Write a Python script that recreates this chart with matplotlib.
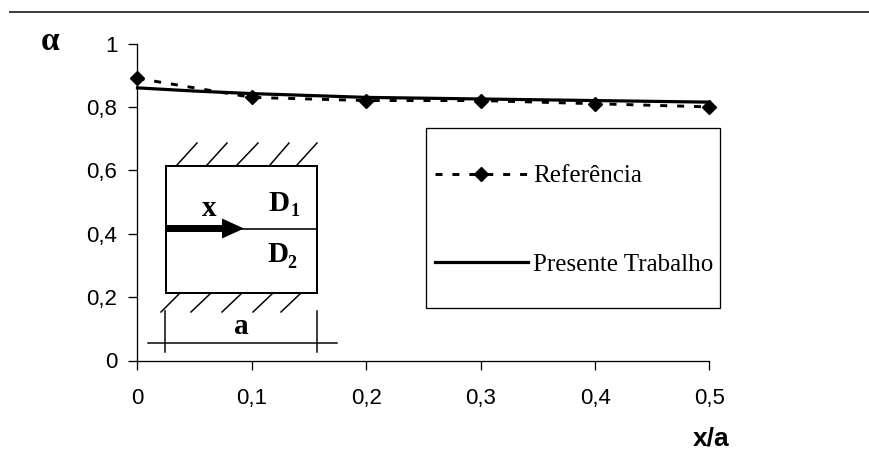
#!/usr/bin/env python3
# -*- coding: utf-8 -*-

"""Curve of alpha along x/a, with the sketch of the two-layer specimen."""

import matplotlib
matplotlib.use('Agg')
import matplotlib.pyplot as plt
from matplotlib.patches import Polygon, Rectangle

# Chart data
x_ref = [0, 0.1, 0.2, 0.3, 0.4, 0.5]
alpha_ref = [0.89, 0.83, 0.82, 0.82, 0.81, 0.80]
x_present = [0, 0.05, 0.1, 0.2, 0.3, 0.4, 0.5]
alpha_present = [0.86, 0.85, 0.842, 0.83, 0.825, 0.82, 0.815]
x_ticks = [0, 0.1, 0.2, 0.3, 0.4, 0.5]
x_tick_labels = ['0', '0,1', '0,2', '0,3', '0,4', '0,5']
y_ticks = [0, 0.2, 0.4, 0.6, 0.8, 1]
y_tick_labels = ['0', '0,2', '0,4', '0,6', '0,8', '1']

W, H = 870, 450
SANS = 'Liberation Sans'
SERIF = 'Liberation Serif'
PX = 0.72  # one pixel in points at dpi 100

fig = plt.figure(figsize=(W / 100, H / 100), dpi=100)

# Axes placed from the pixel positions of the ticks
left, right, top, bottom = 137.5, 709.5, 43.5, 360.5
ax = fig.add_axes([left / W, 1 - bottom / H, (right - left) / W, (bottom - top) / H])
ax.set_xlim(0, 0.5)
ax.set_ylim(0, 1)
ax.spines['top'].set_visible(False)
ax.spines['right'].set_visible(False)
ax.spines['left'].set_linewidth(1.3 * PX)
ax.spines['bottom'].set_linewidth(1.3 * PX)
ax.set_xticks(x_ticks, x_tick_labels, fontfamily=SANS, fontsize=16)
ax.set_yticks(y_ticks, y_tick_labels, fontfamily=SANS, fontsize=16)
ax.tick_params(axis='both', length=9 * PX, width=1.3 * PX, color='black')
ax.tick_params(axis='x', pad=13)
ax.tick_params(axis='y', pad=8)

ax.plot(x_ref, alpha_ref, color='black', linestyle=(0, (2.4, 3.4)), linewidth=2.1,
        marker='D', markersize=7, clip_on=False, label='Referência')
ax.plot(x_present, alpha_present, color='black', linewidth=2.3, clip_on=False,
        label='Presente Trabalho')

ax.legend(loc='upper left', bbox_to_anchor=(435 / W, 1 - 165 / H),
          bbox_transform=fig.transFigure, borderaxespad=0, frameon=False,
          handlelength=3.72, handletextpad=0.2, labelspacing=2.64, borderpad=0,
          numpoints=1, prop={'family': SERIF, 'size': 18})

# Overlay in pixel coordinates for the rule, the labels and the sketch
over = fig.add_axes([0, 0, 1, 1], zorder=3)
over.set_xlim(0, W)
over.set_ylim(H, 0)
over.axis('off')
over.patch.set_alpha(0)

over.plot([10, W], [11.7, 11.7], color='#404040', linewidth=2 * PX)
over.add_patch(Rectangle((426.5, 128), 293.5, 180, fill=False, edgecolor='black', linewidth=1.3 * PX))
over.text(50, 41, 'α', fontfamily=SERIF, fontweight='bold', fontsize=24, ha='center', va='center')
over.text(729, 445, 'x/a', fontfamily=SANS, fontweight='bold', fontsize=19, ha='right', va='baseline')

# Sketch of the specimen
over.add_patch(Rectangle((166, 166), 151, 127, fill=False, edgecolor='black', linewidth=2 * PX))
over.plot([166, 317], [228.5, 228.5], color='black', linewidth=1.6 * PX)
over.add_patch(Polygon([(166, 225), (222, 225), (222, 218.5), (244, 228.5), (222, 238.5),
                        (222, 232), (166, 232)], closed=True, facecolor='black', edgecolor='none'))

for x0, x1 in zip([177, 207, 237, 270, 297], [197, 227, 258, 289, 317]):
    over.plot([x0, x1], [165, 143], color='black', linewidth=1.5 * PX)
for x0, x1 in zip([180, 211, 242, 273, 301], [161, 191, 222, 253, 281]):
    over.plot([x0, x1], [293, 312], color='black', linewidth=1.5 * PX)

over.plot([148, 337], [342.7, 342.7], color='black', linewidth=1.5 * PX)
over.plot([165, 165], [311, 352], color='black', linewidth=1.5 * PX)
over.plot([317, 317], [311, 352], color='black', linewidth=1.5 * PX)

over.text(209, 216.5, 'x', fontfamily=SERIF, fontweight='bold', fontsize=21, ha='center', va='baseline')
over.text(268.5, 211, 'D', fontfamily=SERIF, fontweight='bold', fontsize=21, ha='left', va='baseline')
over.text(291, 216.5, '1', fontfamily=SERIF, fontweight='bold', fontsize=13, ha='left', va='baseline')
over.text(267, 262, 'D', fontfamily=SERIF, fontweight='bold', fontsize=21, ha='left', va='baseline')
over.text(287.5, 267.5, '2', fontfamily=SERIF, fontweight='bold', fontsize=13, ha='left', va='baseline')
over.text(241, 334, 'a', fontfamily=SERIF, fontweight='bold', fontsize=21, ha='center', va='baseline')

fig.savefig('out.png', dpi=100)
